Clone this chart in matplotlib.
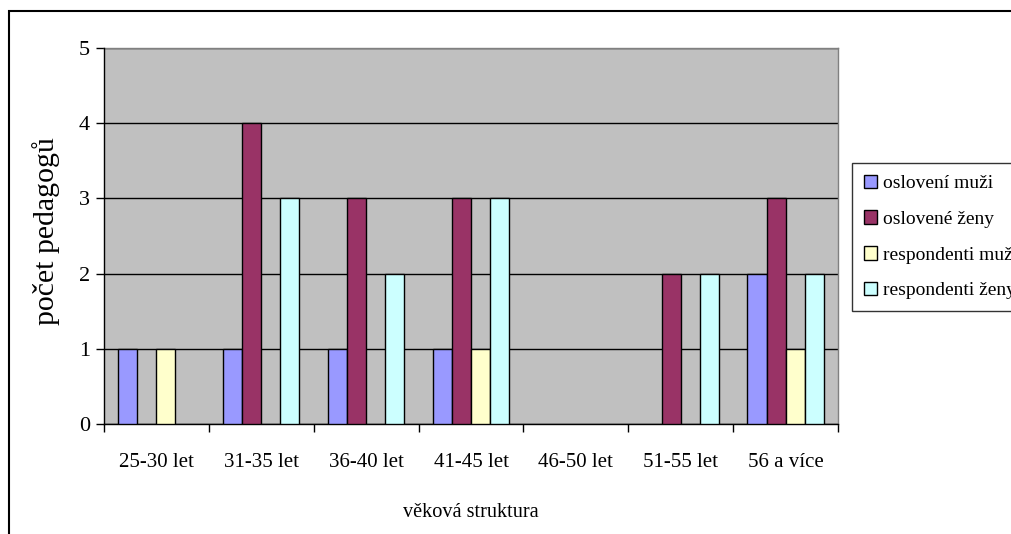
import matplotlib
matplotlib.use("Agg")
import matplotlib.pyplot as plt
import numpy as np
from matplotlib.patches import Rectangle, Patch

categories = ["25-30 let", "31-35 let", "36-40 let", "41-45 let", "46-50 let", "51-55 let", "56 a více"]
series_names = ["oslovení muži", "oslovené ženy", "respondenti muži", "respondenti ženy"]
osloveni_muzi = [1, 1, 1, 1, 0, 0, 2]
oslovene_zeny = [0, 4, 3, 3, 0, 2, 3]
respondenti_muzi = [1, 0, 0, 1, 0, 0, 1]
respondenti_zeny = [0, 3, 2, 3, 0, 2, 2]
colors = ["#9999FF", "#993366", "#FFFFCC", "#CCFFFF"]

plt.rcParams["font.family"] = ["Liberation Serif", "DejaVu Serif"]

W, H = 1011, 534
fig = plt.figure(figsize=(W / 100, H / 100), dpi=100)

# outer chart border (runs past the right and bottom edges)
fig.patches.append(Rectangle((9 / W, -0.1), 1.2, (H - 11) / H + 0.1, transform=fig.transFigure,
                             fill=False, edgecolor="black", linewidth=1.5, zorder=0))

left, right, top, bottom = 104, 838, 48, 424
ax = fig.add_axes([left / W, 1 - bottom / H, (right - left) / W, (bottom - top) / H])
ax.set_facecolor("#C0C0C0")

series = [osloveni_muzi, oslovene_zeny, respondenti_muzi, respondenti_zeny]
n = len(series)
bw = 1 / (n + 1.5)
x = np.arange(len(categories))
for i, (vals, col, name) in enumerate(zip(series, colors, series_names)):
    offs = (i - (n - 1) / 2) * bw
    lw = [1.0 if v > 0 else 0.0 for v in vals]
    ax.bar(x + offs, vals, width=bw, color=col, edgecolor="black", linewidth=lw,
           label=name, zorder=3)

ax.set_xlim(-0.5, len(categories) - 0.5)
ax.set_ylim(0, 5)
ax.set_yticks(range(0, 6))
ax.yaxis.grid(True, color="black", linewidth=1.0, zorder=1)
ax.set_axisbelow(True)

ax.set_xticks(np.arange(len(categories) + 1) - 0.5)
ax.set_xticklabels([])
ax.set_xticks(x, minor=True)
ax.set_xticklabels(categories, minor=True, fontsize=15)
ax.tick_params(axis="x", which="minor", length=0, pad=21)
ax.tick_params(axis="x", which="major", length=6, width=1, direction="out")
ax.tick_params(axis="y", length=6, width=1, direction="out", labelsize=16, pad=4)

for s in ["top", "right"]:
    ax.spines[s].set_visible(False)
ax.spines["left"].set_linewidth(1.0)
ax.spines["bottom"].set_linewidth(1.0)
ax.plot([1, 1], [0, 1], transform=ax.transAxes, color="#808080", linewidth=1.0, clip_on=False)
ax.plot([0, 1], [1, 1], transform=ax.transAxes, color="#808080", linewidth=1.0, clip_on=False)

ax.set_ylabel("počet pedagogů", fontsize=21.5)
ax.yaxis.set_label_coords(-0.060, 0.512)
ax.set_xlabel("věková struktura", fontsize=14.6, labelpad=22)

handles = [Patch(facecolor=c, edgecolor="black", linewidth=1.0) for c in colors]
leg = fig.legend(handles=handles, labels=series_names, loc="upper left",
                 bbox_to_anchor=(852 / W, 1 - 163 / H), fontsize=14, frameon=True,
                 fancybox=False, edgecolor="black", handlelength=0.7, handleheight=0.7,
                 handletextpad=0.3, borderpad=0.6, labelspacing=0.93, borderaxespad=0)
leg.get_frame().set_linewidth(1.0)

fig.savefig("out.png", dpi=100)
